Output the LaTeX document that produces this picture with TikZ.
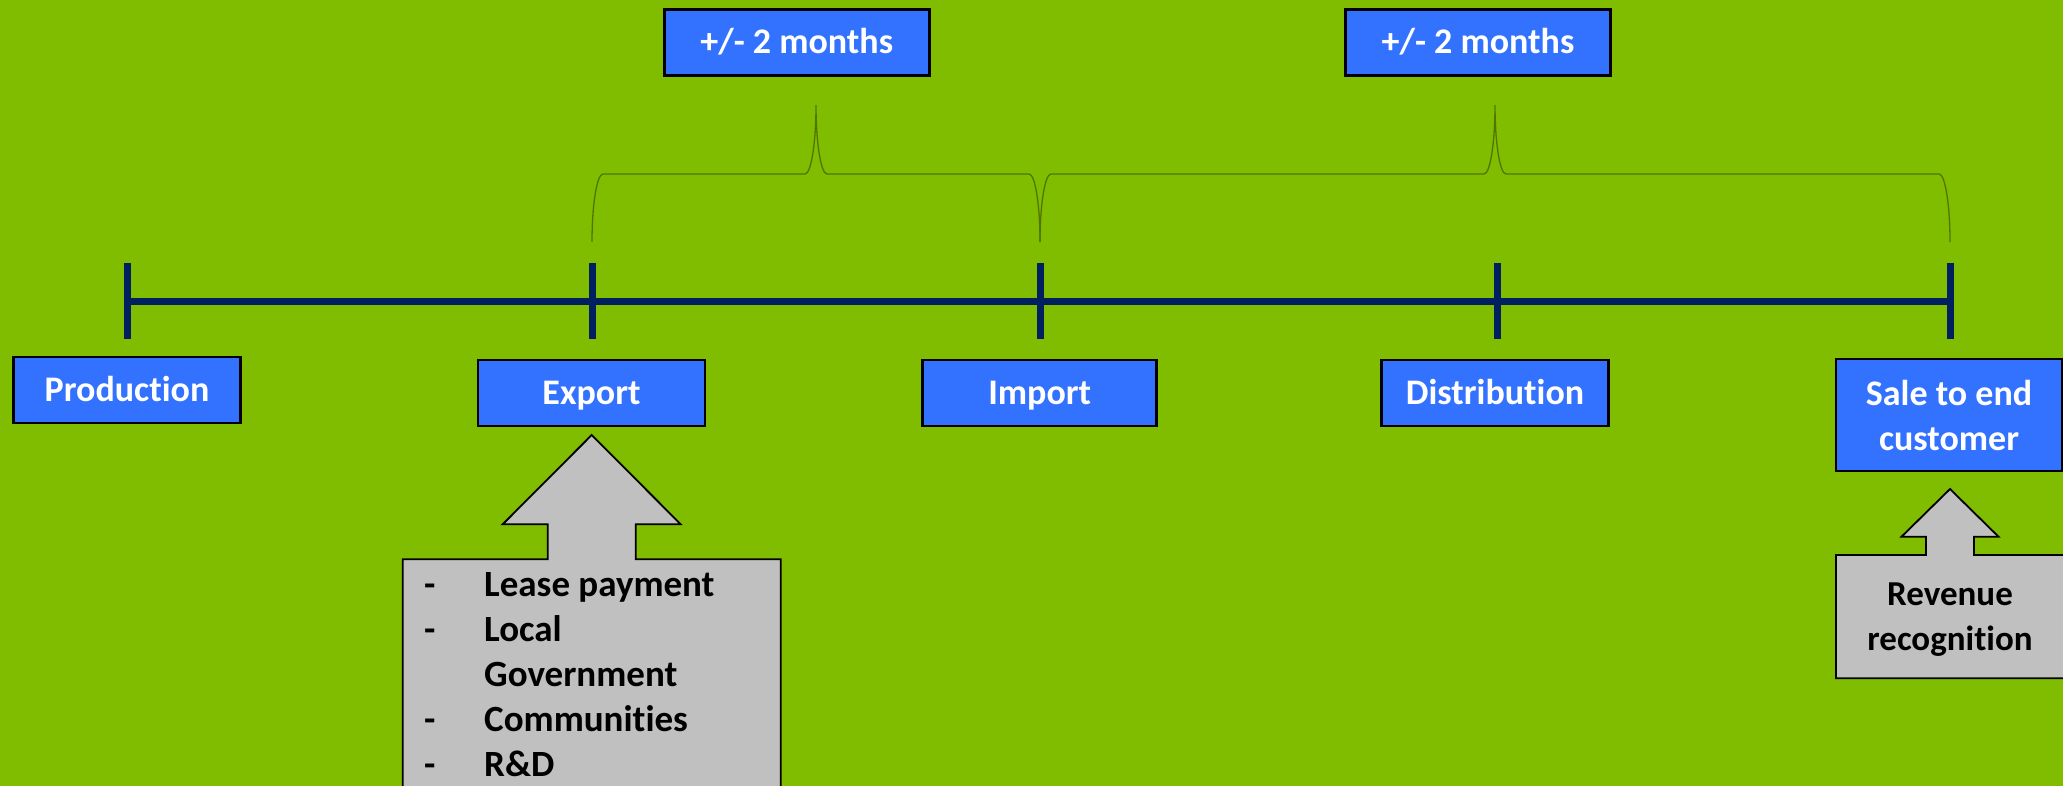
\documentclass[tikz,border=0pt]{standalone}
\usepackage{fontspec}
\setmainfont{Carlito}[Ligatures=NoCommon]
\definecolor{bggreen}{RGB}{128,188,0}
\definecolor{boxblue}{RGB}{51,114,255}
\definecolor{navyline}{RGB}{0,32,96}
\definecolor{bracegreen}{RGB}{80,118,0}
\definecolor{calloutgray}{RGB}{192,192,192}
\begin{document}
\begin{tikzpicture}[x=1pt,y=-1pt,
  stagebox/.style={draw=black, line width=2.6pt, fill=boxblue, text=white,
    font=\bfseries\fontsize{36}{45}\selectfont, inner sep=0pt,
    minimum width=227pt, minimum height=66pt, align=center},
  oneline/.style={text height=23pt, text depth=0pt},
  timeline/.style={draw=navyline, line width=7pt},
  tick/.style={draw=navyline, line width=7pt},
  curly/.style={draw=bracegreen, line width=1.3pt},
  callout/.style={draw=black, line width=1.8pt, fill=calloutgray, line join=miter},
  listtext/.style={font=\bfseries\fontsize{37}{45}\selectfont, inner sep=0pt, anchor=base west},
  revtext/.style={font=\bfseries\fontsize{35}{45}\selectfont, inner sep=0pt, align=center}
]
% canvas
\useasboundingbox (0,0) rectangle (2063,786);
\clip (0,0) rectangle (2063,786);
\fill[bggreen] (0,0) rectangle (2063,786);

% time axis and its ticks
\coordinate (t1) at (127,301);
\coordinate (t2) at (592,301);
\coordinate (t3) at (1040,301);
\coordinate (t4) at (1497,301);
\coordinate (t5) at (1950,301);
\draw[timeline] (t1) -- (t5);
\foreach \t in {t1,t2,t3,t4,t5}
  \draw[tick] ([yshift=38pt]\t) -- ([yshift=-38pt]\t);

% braces spanning the two periods
\draw[curly] (592,242) .. controls (592,204.4) and (596.9,174) .. (603,174)
  -- (805,174) .. controls (811.1,174) and (816,143.1) .. (816,105)
  .. controls (816,143.1) and (820.9,174) .. (827,174)
  -- (1029,174) .. controls (1035.1,174) and (1040,204.4) .. (1040,242);
\draw[curly] (1040,242) .. controls (1040,204.4) and (1044.9,174) .. (1051,174)
  -- (1484,174) .. controls (1490.1,174) and (1495,143.1) .. (1495,105)
  .. controls (1495,143.1) and (1499.9,174) .. (1506,174)
  -- (1939,174) .. controls (1945.1,174) and (1950,204.4) .. (1950,242);

% period labels
\node[stagebox, oneline, minimum width=265pt] (span1) at (796.7,42.3) {+/- 2 months};
\node[stagebox, oneline, minimum width=265pt] (span2) at (1478,42.3) {+/- 2 months};

% stages
\node[stagebox, oneline] (production) at (127,390) {Production};
\node[stagebox, oneline] (export) at (591.5,393) {Export};
\node[stagebox, oneline, minimum width=234pt] (import) at (1039.7,393) {Import};
\node[stagebox, oneline] (distribution) at (1495,393) {Distribution};
\node[stagebox, minimum width=226pt, minimum height=112pt] (sale) at (1949,415) {Sale to end\\customer};

% callout under Export
\draw[callout] (402.7,800) -- (402.7,559.3) -- (547.7,559.3) -- (547.7,524.3)
  -- (502.7,524.3) -- (591.7,435) -- (680.7,524.3) -- (635.7,524.3)
  -- (635.7,559.3) -- (780.7,559.3) -- (780.7,800) -- cycle;
\foreach \y/\n in {596/b1,641.7/b2,731.7/b4,776.7/b5}
  \node[listtext] (\n) at (424,\y) {-};
\node[listtext] (l1) at (484,596) {Lease payment};
\node[listtext] (l2) at (484,641.7) {Local};
\node[listtext] (l3) at (484,686.7) {Government};
\node[listtext] (l4) at (484,731.7) {Communities};
\node[listtext] (l5) at (484,776.7) {R\&D};

% callout under the sale
\draw[callout] (1836,678.3) -- (1836,555) -- (1926,555) -- (1926,536.7)
  -- (1901.5,536.7) -- (1950,489) -- (1998.5,536.7) -- (1974,536.7)
  -- (1974,555) -- (2064,555) -- (2064,678.3) -- cycle;
\node[revtext] (revenue) at (1950,620) {Revenue\\recognition};
\end{tikzpicture}
\end{document}
